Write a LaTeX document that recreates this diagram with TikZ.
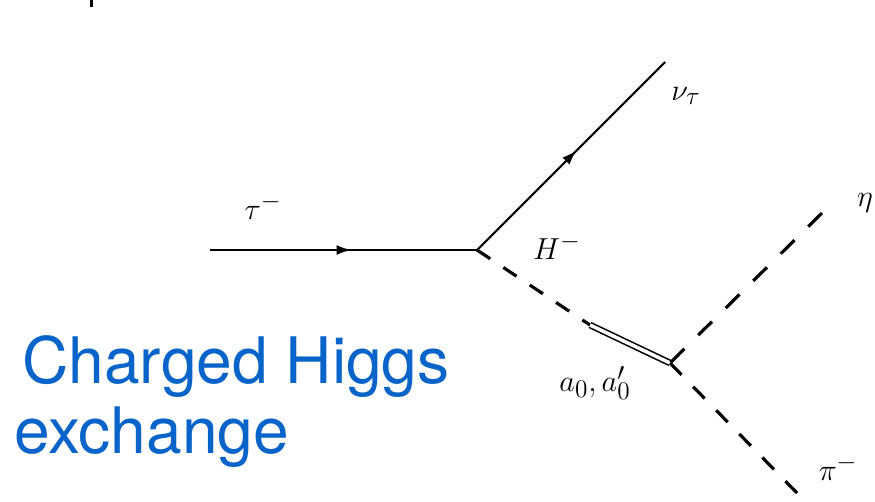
\documentclass[tikz,border=0pt]{standalone}
\usepackage{fontspec}
\newfontfamily\captfont{TeX Gyre Heros}
\usetikzlibrary{arrows.meta,decorations.markings}
\definecolor{captblue}{RGB}{8,100,200}
\tikzset{
  fermion/.style={line width=1.2pt,postaction={decorate},decoration={markings,mark=at position 0.53 with {\arrow{Latex[length=3mm,width=2mm]}}}},
  scalar/.style={line width=1.8pt,dash pattern=on #1 off #1},
  scalar/.default=9pt,
  meson/.style={double,line width=0.9pt,double distance=2pt},
  lbl/.style={font=\fontsize{19}{21}\selectfont,inner sep=0pt},
  capt/.style={font=\captfont\fontsize{36.5}{40}\selectfont,text=captblue,inner sep=0pt,anchor=base west},
}
\begin{document}
\begin{tikzpicture}[x=0.02cm,y=-0.02cm]
  \useasboundingbox (0,0) rectangle (875,501);
  \fill (90,0) rectangle (93,7);
  \coordinate (tin) at (210,250); \coordinate (v1) at (477,250);
  \coordinate (nu) at (665,62); \coordinate (hend) at (590,325);
  \coordinate (v2) at (670,363); \coordinate (eta) at (822,213);
  \coordinate (pim) at (797,493);
  \draw[fermion] (tin) -- (v1);
  \draw[fermion] (v1) -- (nu);
  \draw[scalar] (v1) -- (hend);
  \draw[meson] (hend) -- (v2);
  % outer ends start on a dash
  \draw[scalar=11pt] (eta) -- (v2);
  \draw[scalar=9.4pt] (pim) -- (v2);
  \node[lbl] (ltau) at (263,207) {$\tau^-$};
  \node[lbl] (lH) at (557,247) {$H^-$};
  \node[lbl] (lnu) at (686,96) {$\nu_\tau$};
  \node[lbl] (leta) at (865,203) {$\eta$};
  \node[lbl] (la) at (595,383) {$a_0,a_0'$};
  \node[lbl] (lpi) at (838,468) {$\pi^-$};
  \node[capt] (cap1) at (22,383) {Charged Higgs};
  \node[capt] (cap2) at (14,453) {exchange};
\end{tikzpicture}
\end{document}
